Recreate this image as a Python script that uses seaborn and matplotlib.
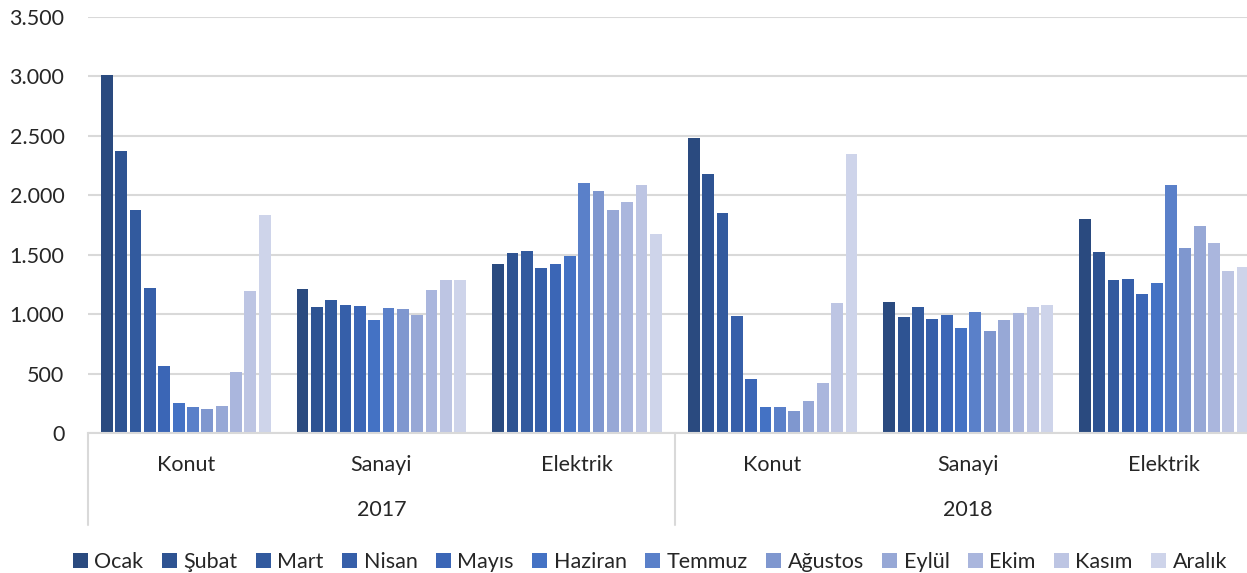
import pandas as pd
import seaborn as sns
import matplotlib.pyplot as plt
from matplotlib.ticker import FuncFormatter

months = ['Ocak', 'Şubat', 'Mart', 'Nisan', 'Mayıs', 'Haziran', 'Temmuz',
          'Ağustos', 'Eylül', 'Ekim', 'Kasım', 'Aralık']
sectors = ['Konut', 'Sanayi', 'Elektrik']
years = ['2017', '2018']

konut_2017 = [3010, 2370, 1873, 1217, 564, 252, 219, 199, 230, 516, 1195, 1834]
sanayi_2017 = [1209, 1057, 1119, 1074, 1068, 948, 1054, 1046, 995, 1201, 1287, 1287]
elektrik_2017 = [1419, 1514, 1531, 1388, 1419, 1492, 2103, 2033, 1879, 1944, 2087, 1672]
konut_2018 = [2479, 2176, 1848, 982, 452, 216, 216, 188, 267, 418, 1094, 2347]
sanayi_2018 = [1102, 976, 1063, 959, 990, 883, 1015, 858, 951, 1007, 1063, 1074]
elektrik_2018 = [1798, 1520, 1285, 1293, 1167, 1262, 2089, 1554, 1739, 1600, 1360, 1397]

colors = ['#2A4A7F', '#2E5392', '#325A9E', '#365FA9', '#3B66B6', '#4472C4',
          '#5A80C9', '#7F97CF', '#97A8D6', '#AAB6DD', '#BDC5E3', '#CED4EA']

series = {
    ('2017', 'Konut'): konut_2017,
    ('2017', 'Sanayi'): sanayi_2017,
    ('2017', 'Elektrik'): elektrik_2017,
    ('2018', 'Konut'): konut_2018,
    ('2018', 'Sanayi'): sanayi_2018,
    ('2018', 'Elektrik'): elektrik_2018,
}

rows = []
for (year, sector), vals in series.items():
    for m, v in zip(months, vals):
        rows.append({'group': sector + '_' + year, 'Ay': m, 'value': v})
df = pd.DataFrame(rows)
order = [s + '_' + y for y in years for s in sectors]

sns.set_style('white')
plt.rcParams['font.family'] = ['Lato', 'DejaVu Sans']
FS = 15.5

fig = plt.figure(figsize=(12.47, 5.73), dpi=100)
ax = fig.add_axes([88 / 1247, 140 / 573, 1173.6 / 1247, 416 / 573])

sns.barplot(data=df, x='group', y='value', hue='Ay', order=order, hue_order=months,
            palette=colors, width=0.88, gap=0.18, ax=ax, legend=True,
            saturation=1, edgecolor='none')

ax.set_ylim(0, 3500)
ax.set_xlim(-0.5, 5.5)
ax.set_yticks(range(0, 3501, 500))
ax.yaxis.set_major_formatter(FuncFormatter(lambda v, p: f'{int(v):,}'.replace(',', '.')))
ax.tick_params(axis='y', length=0, pad=17, labelsize=FS)
ax.set_xticks([])
ax.set_xlabel('')
ax.set_ylabel('')
ax.grid(axis='y', color='#D9D9D9', linewidth=1.5)
ax.set_axisbelow(True)
for side in ['top', 'right', 'left']:
    ax.spines[side].set_visible(False)
ax.spines['bottom'].set_color('#D9D9D9')
ax.spines['bottom'].set_linewidth(1.5)

# two-level category axis
trans = ax.get_xaxis_transform()
for i, g in enumerate(order):
    ax.text(i, -0.077, g.split('_')[0], transform=trans, ha='center', va='center',
            fontsize=FS, clip_on=False)
for j, y in enumerate(years):
    ax.text(j * 3 + 1, -0.185, y, transform=trans, ha='center', va='center',
            fontsize=FS, clip_on=False)
for xb in [-0.5, 2.5, 5.5]:
    ax.plot([xb, xb], [0, -0.221], transform=trans, color='#D9D9D9', lw=1.5,
            clip_on=False)

handles, labels = ax.get_legend_handles_labels()
ax.get_legend().remove()
fig.legend(handles, labels, loc='center', bbox_to_anchor=(650 / 1247, 11 / 573),
           ncol=12, frameon=False, fontsize=FS, handlelength=0.7, handleheight=0.7,
           handletextpad=0.3, columnspacing=0.85, borderaxespad=0)

fig.savefig('out.png', dpi=100)
